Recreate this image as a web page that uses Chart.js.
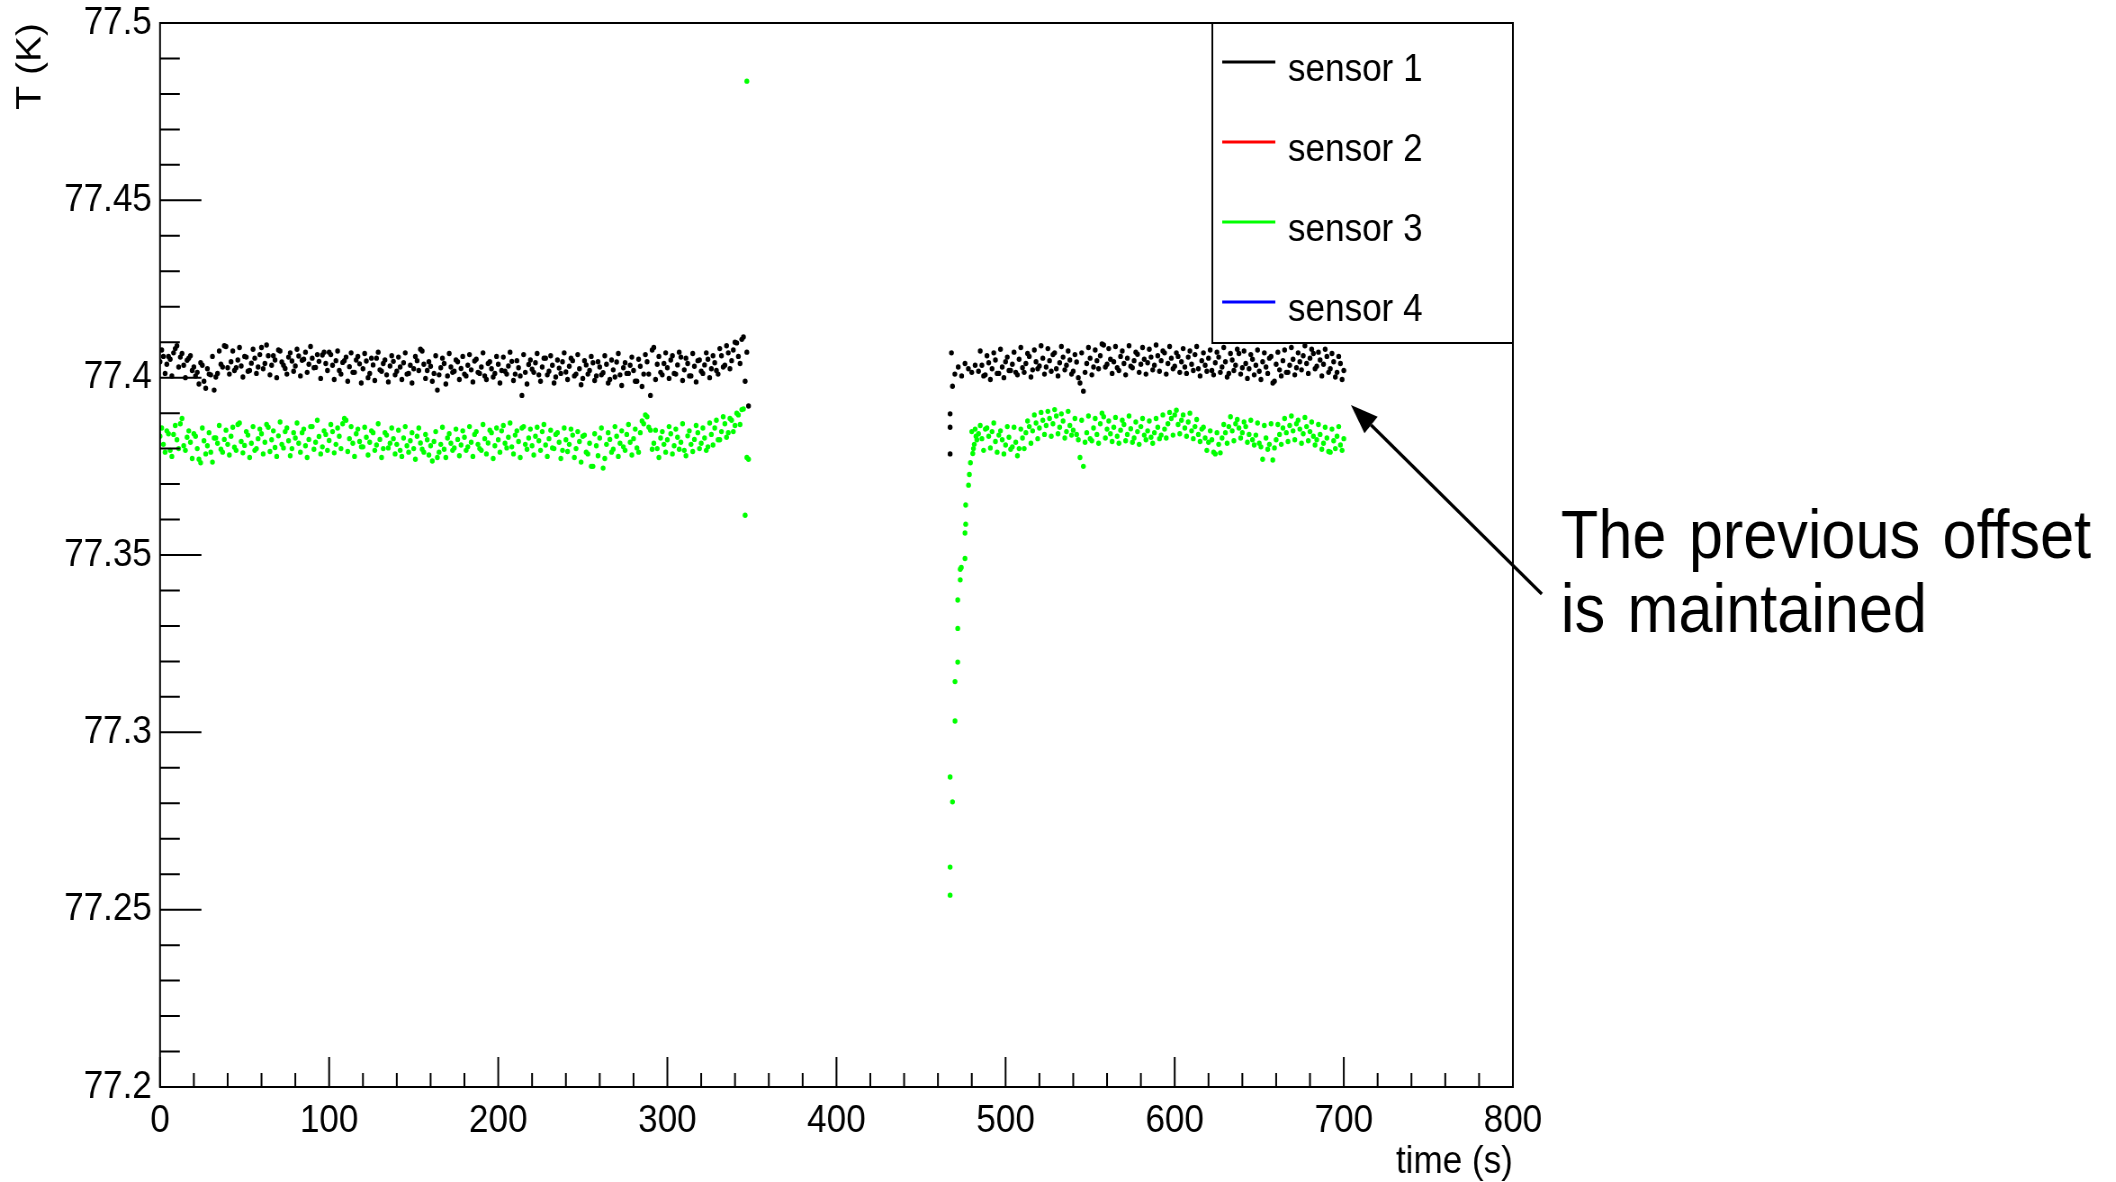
<!DOCTYPE html>
<html>
<head>
<meta charset="utf-8">
<script src="https://cdn.jsdelivr.net/npm/chart.js@4"></script>
<style>
html, body { margin: 0; padding: 0; background: #ffffff; overflow: hidden; }
#wrap { position: absolute; left: 0; top: 0; width: 2351px; height: 1182px; transform: scaleX(0.9); transform-origin: 0 0; }
canvas { display: block; }
</style>
</head>
<body>
<div id="wrap"><canvas id="chart" width="2351" height="1182"></canvas></div>
<script>
// ---------------- data ----------------
const sensorLabels = ['sensor 1', 'sensor 2', 'sensor 3', 'sensor 4'];

// first run, even seconds
const timeA = [0,2,4,6,8,10,12,14,16,18,20,22,24,26,28,30,32,34,36,38,40,42,44,46,48,50,52,54,56,58,
60,62,64,66,68,70,72,74,76,78,80,82,84,86,88,90,92,94,96,98,100,102,104,106,108,110,112,114,116,118,
120,122,124,126,128,130,132,134,136,138,140,142,144,146,148,150,152,154,156,158,160,162,164,166,168,170,172,174,176,178,
180,182,184,186,188,190,192,194,196,198,200,202,204,206,208,210,212,214,216,218,220,222,224,226,228,230,232,234,236,238,
240,242,244,246,248,250,252,254,256,258,260,262,264,266,268,270,272,274,276,278,280,282,284,286,288,290,292,294,296,298,
300,302,304,306,308,310,312,314,316,318,320,322,324,326,328,330,332,334,336,338,340,342,344,346,348];

const sensor1A = [
77.4045,77.4060,77.4038,77.4052,77.4070,77.4090,77.4058,77.4035,77.4049,77.4062,
77.4030,77.4015,77.4042,77.3990,77.4025,77.4008,77.3965,77.4012,77.4038,77.4090,
77.4028,77.4045,77.4020,77.4050,77.4033,77.4060,77.4018,77.4041,77.4055,77.4030,
77.4085,77.4040,77.4062,77.4035,77.4050,77.4078,77.4044,77.4026,77.4058,77.4047,
77.4033,77.4061,77.4049,77.4072,77.4038,77.4055,77.4029,77.4046,77.4064,77.4040,
77.4072,77.4035,77.4048,77.4020,77.4043,77.4058,77.4031,77.4015,77.4050,77.4039,
77.4025,77.4047,77.4012,77.4036,77.4055,77.4022,77.4040,77.4008,77.4033,77.4046,
77.4018,77.4030,77.4042,77.4010,77.4035,77.4025,77.4048,77.4080,77.4038,77.4020,
77.4032,77.4012,77.3965,77.4028,77.4040,77.4005,77.4030,77.4018,77.4045,77.4026,
77.4010,77.4035,77.4022,77.4047,77.4015,77.4030,77.4005,77.4040,77.4025,77.4012,
77.4038,77.4020,77.4018,77.4033,77.4046,77.4010,77.4028,77.3950,77.4015,77.4037,
77.4024,77.4042,77.4008,77.4030,77.4055,77.4018,77.4035,77.4002,77.4027,77.4045,
77.4016,77.4032,77.4048,77.4010,77.4025,77.3998,77.4036,77.4020,77.4042,77.4005,
77.4030,77.4014,77.4038,77.3995,77.4022,77.4044,77.4008,77.4028,77.4012,77.4035,
77.4020,77.3990,77.4032,77.4010,77.4045,77.3950,77.4085,77.4038,77.4015,77.4040,
77.4028,77.4050,77.4012,77.4036,77.4058,77.4022,77.4040,77.4005,77.4032,77.4048,
77.4018,77.4036,77.4052,77.4025,77.4042,77.4010,77.4062,77.4035,77.4070,77.4048,
77.4100,77.4060,77.4108,77.3990,77.3920];

const sensor3A = [
77.3835,77.3812,77.3850,77.3795,77.3840,77.3825,77.3870,77.3808,77.3832,77.3818,
77.3842,77.3800,77.3760,77.3822,77.3808,77.3790,77.3830,77.3815,77.3798,77.3826,
77.3812,77.3835,77.3804,77.3868,77.3820,77.3809,77.3838,77.3815,77.3795,77.3828,
77.3842,77.3818,77.3860,77.3825,77.3803,77.3836,77.3812,77.3848,77.3822,77.3800,
77.3830,77.3815,77.3845,77.3808,77.3826,77.3862,77.3818,77.3834,77.3805,77.3840,
77.3823,77.3848,77.3812,77.3835,77.3870,77.3880,77.3828,77.3815,77.3842,77.3820,
77.3805,77.3832,77.3818,77.3845,77.3810,77.3826,77.3800,77.3838,77.3815,77.3828,
77.3812,77.3795,77.3830,77.3808,77.3822,77.3800,77.3835,77.3816,77.3790,77.3825,
77.3808,77.3820,77.3775,77.3812,77.3798,77.3830,77.3815,77.3802,77.3826,77.3810,
77.3832,77.3805,77.3818,77.3840,77.3812,77.3795,77.3828,77.3816,77.3845,77.3808,
77.3825,77.3850,77.3815,77.3832,77.3805,77.3838,77.3820,77.3858,77.3812,77.3830,
77.3808,77.3835,77.3822,77.3848,77.3810,77.3828,77.3802,77.3840,77.3818,77.3795,
77.3825,77.3812,77.3838,77.3800,77.3820,77.3835,77.3790,77.3815,77.3750,77.3808,
77.3830,77.3745,77.3812,77.3826,77.3798,77.3835,77.3815,77.3805,77.3840,77.3818,
77.3828,77.3802,77.3845,77.3870,77.3890,77.3852,77.3815,77.3800,77.3830,77.3812,
77.3825,77.3842,77.3808,77.3832,77.3818,77.3795,77.3836,77.3812,77.3826,77.3845,
77.3815,77.3830,77.3805,77.3840,77.3858,77.3825,77.3848,77.3870,77.3845,77.3880,
77.3865,77.3895,77.3910,77.3612,77.3770];

// first run, odd seconds
const timeA2 = [1,3,5,7,9,11,13,15,17,19,21,23,25,27,29,31,33,35,37,39,41,43,45,47,49,51,53,55,57,59,
61,63,65,67,69,71,73,75,77,79,81,83,85,87,89,91,93,95,97,99,101,103,105,107,109,111,113,115,117,119,
121,123,125,127,129,131,133,135,137,139,141,143,145,147,149,151,153,155,157,159,161,163,165,167,169,171,173,175,177,179,
181,183,185,187,189,191,193,195,197,199,201,203,205,207,209,211,213,215,217,219,221,223,225,227,229,231,233,235,237,239,
241,243,245,247,249,251,253,255,257,259,261,263,265,267,269,271,273,275,277,279,281,283,285,287,289,291,293,295,297,299,
301,303,305,307,309,311,313,315,317,319,321,323,325,327,329,331,333,335,337,339,341,343,345,347];

const sensor1A2 = [
77.4078,77.4012,77.4060,77.4005,77.4082,77.4030,77.4068,77.4000,77.4055,77.4020,
77.4005,77.3982,77.4035,77.3970,77.4010,77.4060,77.4002,77.4075,77.4030,77.4088,
77.4010,77.4075,77.4028,77.4085,77.4002,77.4058,77.4020,77.4080,77.4012,77.4065,
77.4025,77.4092,77.4008,77.4062,77.4000,77.4075,77.4035,77.4010,77.4070,77.4018,
77.4080,77.4005,77.4052,77.4015,77.4088,77.4028,77.4065,77.3998,77.4072,77.4020,
77.4065,77.3995,77.4075,77.4010,77.4048,77.3990,77.4070,77.4015,77.4060,77.3985,
77.4068,77.4000,77.4055,77.3992,77.4072,77.4018,77.4050,77.3988,77.4062,77.4008,
77.4058,77.3995,77.4070,77.4012,77.3985,77.4060,77.4020,77.4075,77.3998,77.4045,
77.3990,77.4062,77.4008,77.4055,77.3982,77.4068,77.4015,77.4050,77.3995,77.4060,
77.4005,77.4065,77.3988,77.4052,77.4012,77.4070,77.3995,77.4045,77.4002,77.4060,
77.3985,77.4058,77.4010,77.4072,77.3992,77.4048,77.4005,77.4065,77.3982,77.4050,
77.4015,77.4068,77.3990,77.4055,77.4008,77.4062,77.3985,77.4050,77.4012,77.4070,
77.3995,77.4055,77.4005,77.4065,77.3980,77.4048,77.4010,77.4060,77.3992,77.4045,
77.4008,77.4062,77.3985,77.4050,77.4002,77.4068,77.3978,77.4042,77.4012,77.4058,
77.3990,77.4052,77.3975,77.4065,77.4010,77.4078,77.3995,77.4060,77.4008,77.4070,
77.3998,77.4062,77.4010,77.4072,77.3992,77.4055,77.4005,77.4068,77.3988,77.4050,
77.4012,77.4070,77.4000,77.4062,77.4020,77.4082,77.4030,77.4090,77.4025,77.4078,
77.4098,77.4040,77.4115,77.4072];

const sensor3A2 = [
77.3858,77.3790,77.3842,77.3778,77.3865,77.3800,77.3885,77.3795,77.3850,77.3772,
77.3835,77.3770,77.3858,77.3785,77.3845,77.3762,77.3830,77.3865,77.3790,77.3852,
77.3782,77.3860,77.3795,77.3872,77.3788,77.3848,77.3775,77.3862,77.3800,77.3855,
77.3785,77.3868,77.3792,77.3850,77.3778,77.3875,77.3802,77.3858,77.3780,77.3845,
77.3872,77.3790,77.3855,77.3775,77.3862,77.3798,77.3880,77.3785,77.3850,77.3795,
77.3868,77.3788,77.3858,77.3800,77.3885,77.3792,77.3862,77.3778,77.3855,77.3805,
77.3860,77.3782,77.3850,77.3795,77.3870,77.3775,77.3845,77.3802,77.3858,77.3785,
77.3852,77.3778,77.3862,77.3790,77.3845,77.3770,77.3858,77.3798,77.3840,77.3782,
77.3765,77.3848,77.3790,77.3860,77.3775,77.3842,77.3795,77.3855,77.3780,77.3850,
77.3795,77.3862,77.3778,77.3848,77.3800,77.3868,77.3785,77.3852,77.3772,77.3858,
77.3790,77.3865,77.3802,77.3872,77.3785,77.3850,77.3775,77.3862,77.3798,77.3855,
77.3782,77.3860,77.3795,77.3868,77.3778,77.3852,77.3800,77.3845,77.3772,77.3858,
77.3792,77.3855,77.3775,77.3848,77.3762,77.3838,77.3785,77.3750,77.3842,77.3780,
77.3858,77.3772,77.3845,77.3790,77.3862,77.3778,77.3850,77.3795,77.3868,77.3782,
77.3855,77.3790,77.3878,77.3895,77.3860,77.3798,77.3852,77.3775,77.3848,77.3790,
77.3862,77.3785,77.3855,77.3798,77.3870,77.3780,77.3850,77.3792,77.3865,77.3800,
77.3858,77.3795,77.3872,77.3810,77.3880,77.3825,77.3890,77.3832,77.3885,77.3848,
77.3900,77.3868,77.3912,77.3775];

// restart: irregular readings while the sensors settle
const timeT1 = [467.2,467.2,467.2,468.0,468.6,470,472,474,476,478,480,482];
const sensor1T = [77.3785,77.3860,77.3898,77.4070,77.3976,77.4010,77.4030,77.4005,77.4040,77.4025,77.4015,77.4035];

const timeT3 = [347,467.2,467.2,467.2,468.6,470.1,470.1,471.7,471.7,471.7,473.2,473.2,473.8,476.0,476.0,476.4,476.4,
478.1,478.6,479.2,480.6,481.5,482.5,480,481,482,483];
const sensor3T = [77.4836,77.2541,77.2620,77.2874,77.2804,77.3032,77.3143,77.3198,77.3293,77.3373,77.3430,77.3460,77.3465,
77.3490,77.3562,77.3587,77.3641,77.3697,77.3727,77.3760,77.3786,77.3812,77.3835,77.3848,77.3800,77.3855,77.3825];

// second run, even seconds
const timeB = [484,486,488,490,492,494,496,498,500,502,504,506,508,510,512,514,516,518,520,522,
524,526,528,530,532,534,536,538,540,542,544,546,548,550,552,554,556,558,560,562,
564,566,568,570,572,574,576,578,580,582,584,586,588,590,592,594,596,598,600,602,
604,606,608,610,612,614,616,618,620,622,624,626,628,630,632,634,636,638,640,642,
644,646,648,650,652,654,656,658,660,662,664,666,668,670,672,674,676,678,680,682,
684,686,688,690,692,694,696,698,700];

const sensor1B = [
77.4018,77.4035,77.4008,77.4042,77.4025,77.4050,77.4012,77.4030,77.4045,77.4020,
77.4038,77.4015,77.4052,77.4028,77.4040,77.4060,77.4022,77.4045,77.4033,77.4055,
77.4030,77.4048,77.4065,77.4025,77.4042,77.4058,77.4035,77.4050,77.4018,77.4044,
77.3985,77.3962,77.4040,77.4055,77.4030,77.4048,77.4062,77.4092,77.4038,77.4052,
77.4045,77.4028,77.4060,77.4040,77.4055,77.4032,77.4048,77.4066,77.4038,77.4052,
77.4042,77.4058,77.4035,77.4062,77.4048,77.4070,77.4040,77.4055,77.4032,77.4060,
77.4045,77.4030,77.4058,77.4038,77.4065,77.4025,77.4048,77.4035,77.4055,77.4020,
77.4042,77.4058,77.4030,77.4045,77.4012,77.4050,77.4035,77.4068,77.4028,77.4040,
77.4025,77.4052,77.4035,77.4018,77.4045,77.4030,77.4055,77.3985,77.4038,77.4022,
77.4048,77.4015,77.4035,77.4052,77.4028,77.4045,77.4062,77.4040,77.4055,77.4068,
77.4032,77.4050,77.4038,77.4060,77.4025,77.4045,77.4015,77.4040,77.4020];

const sensor3B = [
77.3842,77.3828,77.3855,77.3835,77.3848,77.3820,77.3838,77.3825,77.3810,77.3832,
77.3805,77.3818,77.3800,77.3830,77.3845,77.3862,77.3850,77.3872,77.3858,77.3880,
77.3865,77.3885,77.3870,77.3892,77.3860,77.3878,77.3848,77.3865,77.3852,77.3840,
77.3775,77.3750,77.3845,77.3828,77.3858,77.3840,77.3870,77.3890,77.3855,77.3842,
77.3860,77.3835,77.3852,77.3868,77.3840,77.3856,77.3830,77.3848,77.3862,77.3838,
77.3850,77.3832,77.3845,77.3860,77.3838,77.3855,77.3870,77.3885,77.3895,77.3868,
77.3880,77.3858,77.3875,77.3850,77.3862,77.3840,77.3855,77.3830,77.3818,77.3825,
77.3785,77.3812,77.3830,77.3845,77.3862,77.3850,77.3870,77.3858,77.3845,77.3862,
77.3840,77.3825,77.3838,77.3815,77.3770,77.3830,77.3812,77.3768,77.3825,77.3840,
77.3858,77.3845,77.3865,77.3850,77.3870,77.3855,77.3842,77.3862,77.3848,77.3835,
77.3825,77.3840,77.3815,77.3830,77.3790,77.3822,77.3835,77.3810,77.3828];

// second run, odd seconds
const timeB2 = [485,487,489,491,493,495,497,499,501,503,505,507,509,511,513,515,517,519,521,523,
525,527,529,531,533,535,537,539,541,543,545,547,549,551,553,555,557,559,561,563,
565,567,569,571,573,575,577,579,581,583,585,587,589,591,593,595,597,599,601,603,
605,607,609,611,613,615,617,619,621,623,625,627,629,631,633,635,637,639,641,643,
645,647,649,651,653,655,657,659,661,663,665,667,669,671,673,675,677,679,681,683,
685,687,689,691,693,695,697,699];

const sensor1B2 = [
77.4075,77.4005,77.4062,77.3995,77.4070,77.4012,77.4080,77.4000,77.4058,77.4020,
77.4072,77.4008,77.4085,77.4015,77.4068,77.4002,77.4078,77.4025,77.4090,77.4010,
77.4082,77.4018,77.4070,77.4005,77.4088,77.4022,77.4075,77.4010,77.4065,77.4000,
77.4070,77.4015,77.4085,77.4008,77.4078,77.4025,77.4095,77.4030,77.4082,77.4012,
77.4088,77.4020,77.4075,77.4008,77.4090,77.4028,77.4072,77.4015,77.4085,77.4010,
77.4080,77.4022,77.4092,77.4018,77.4075,77.4010,77.4088,77.4025,77.4070,77.4015,
77.4082,77.4012,77.4075,77.4020,77.4088,77.4005,77.4070,77.4018,77.4078,77.4008,
77.4072,77.4015,77.4085,77.4002,77.4068,77.4020,77.4080,77.4010,77.4075,77.3998,
77.4065,77.4008,77.4078,77.3995,77.4070,77.4012,77.4060,77.3990,77.4072,77.4005,
77.4078,77.4015,77.4085,77.4008,77.4070,77.4022,77.4090,77.4012,77.4080,77.4025,
77.4072,77.4005,77.4080,77.4015,77.4068,77.4002,77.4060,77.3995];

const sensor3B2 = [
77.3865,77.3795,77.3858,77.3802,77.3872,77.3790,77.3850,77.3785,77.3862,77.3798,
77.3860,77.3780,77.3855,77.3800,77.3878,77.3815,77.3895,77.3828,77.3902,77.3840,
77.3905,77.3835,77.3910,77.3842,77.3898,77.3830,77.3905,77.3838,77.3885,77.3825,
77.3880,77.3818,77.3892,77.3822,77.3885,77.3815,77.3900,77.3830,77.3878,77.3820,
77.3888,77.3815,77.3880,77.3822,77.3892,77.3818,77.3875,77.3812,77.3885,77.3825,
77.3878,77.3815,77.3885,77.3828,77.3895,77.3830,77.3902,77.3838,77.3908,77.3842,
77.3895,77.3835,77.3900,77.3828,77.3882,77.3820,77.3860,77.3795,77.3850,77.3790,
77.3845,77.3788,77.3868,77.3815,77.3890,77.3822,77.3882,77.3830,77.3875,77.3818,
77.3880,77.3810,77.3872,77.3805,77.3865,77.3798,77.3870,77.3802,77.3868,77.3812,
77.3885,77.3820,77.3892,77.3825,77.3880,77.3815,77.3888,77.3822,77.3875,77.3810,
77.3868,77.3798,77.3860,77.3792,77.3855,77.3800,77.3862,77.3795];

// sensors 2 and 4 have no readings inside the plotted range
const sensor2Time = [];
const sensor2Temp = [];
const sensor4Time = [];
const sensor4Temp = [];

// annotation text and arrow anchors, in data units (time s, temperature K)
const noteLines = ['The previous offset', 'is maintained'];
const noteAnchor = [828.4, 77.3492];
const arrowTail = [817.1, 77.3390];
const arrowHead = [704.2, 77.3923];

// ---------------- build ----------------
function toPoints(times, temps) {
  return times.map((t, i) => ({ x: t, y: temps[i] }));
}
const seriesColors = ['#000000', '#ff0000', '#00ff00', '#0000ff'];
const FONT = '"Liberation Sans", Arial, Helvetica, sans-serif';
Chart.defaults.font.family = FONT;
Chart.defaults.color = '#000000';

const datasets = [
  { label: sensorLabels[0],
    data: [].concat(toPoints(timeA, sensor1A), toPoints(timeA2, sensor1A2), toPoints(timeT1, sensor1T),
                    toPoints(timeB, sensor1B), toPoints(timeB2, sensor1B2)), order: 4 },
  { label: sensorLabels[1], data: toPoints(sensor2Time, sensor2Temp), order: 3 },
  { label: sensorLabels[2],
    data: [].concat(toPoints(timeA, sensor3A), toPoints(timeA2, sensor3A2), toPoints(timeT3, sensor3T),
                    toPoints(timeB, sensor3B), toPoints(timeB2, sensor3B2)), order: 2 },
  { label: sensorLabels[3], data: toPoints(sensor4Time, sensor4Temp), order: 1 }
].map((d, i) => Object.assign(d, {
  borderColor: seriesColors[i], backgroundColor: seriesColors[i],
  pointRadius: 2.7, pointBorderWidth: 0, pointHoverRadius: 2.7, showLine: false
}));

// frame with inward major/minor ticks
const frameTicks = {
  id: 'frameTicks',
  afterDatasetsDraw(chart) {
    const { ctx, chartArea: a, scales: { x, y } } = chart;
    ctx.save();
    ctx.strokeStyle = '#000';
    ctx.lineWidth = 2;
    ctx.strokeRect(a.left, a.top, a.right - a.left, a.bottom - a.top);
    ctx.beginPath();
    const xv = x.ticks.map(t => t.value);
    xv.forEach((v, i) => {
      const p = x.getPixelForValue(v);
      ctx.moveTo(p, a.bottom); ctx.lineTo(p, a.bottom - 30);
      if (i < xv.length - 1) {
        for (let k = 1; k < 5; k++) {
          const q = x.getPixelForValue(v + (xv[i + 1] - v) * k / 5);
          ctx.moveTo(q, a.bottom); ctx.lineTo(q, a.bottom - 14);
        }
      }
    });
    const yv = y.ticks.map(t => t.value);
    yv.forEach((v, i) => {
      const p = y.getPixelForValue(v);
      ctx.moveTo(a.left, p); ctx.lineTo(a.left + 46, p);
      if (i < yv.length - 1) {
        for (let k = 1; k < 5; k++) {
          const q = y.getPixelForValue(v + (yv[i + 1] - v) * k / 5);
          ctx.moveTo(a.left, q); ctx.lineTo(a.left + 22, q);
        }
      }
    });
    ctx.stroke();
    ctx.restore();
  }
};

// boxed legend in the top-right corner of the frame
const boxLegend = {
  id: 'boxLegend',
  afterDraw(chart) {
    const { ctx, chartArea: a } = chart;
    const w = 334, h = 320;
    const x0 = a.right - w, y0 = a.top;
    ctx.save();
    ctx.fillStyle = '#fff';
    ctx.fillRect(x0, y0, w, h);
    ctx.strokeStyle = '#000';
    ctx.lineWidth = 2;
    ctx.strokeRect(x0, y0, w, h);
    const ds = chart.data.datasets;
    const rowH = h / ds.length;
    ds.forEach((d, i) => {
      const cy = y0 + rowH * (i + 0.5) - 1;
      ctx.strokeStyle = d.borderColor;
      ctx.lineWidth = 3;
      ctx.beginPath();
      ctx.moveTo(x0 + 11, cy);
      ctx.lineTo(x0 + 70, cy);
      ctx.stroke();
      ctx.fillStyle = '#000';
      ctx.font = '39px ' + FONT;
      ctx.textAlign = 'left';
      ctx.textBaseline = 'alphabetic';
      ctx.fillText(d.label, x0 + 84, cy + 19);
    });
    ctx.restore();
  }
};

// arrow + note outside the frame
const offsetNote = {
  id: 'offsetNote',
  afterDraw(chart) {
    const { ctx, scales: { x, y } } = chart;
    const hx = x.getPixelForValue(arrowHead[0]), hy = y.getPixelForValue(arrowHead[1]);
    const tx = x.getPixelForValue(arrowTail[0]), ty = y.getPixelForValue(arrowTail[1]);
    const ang = Math.atan2(hy - ty, hx - tx);
    const L = 30, W = 11;
    const bx = hx - L * Math.cos(ang), by = hy - L * Math.sin(ang);
    ctx.save();
    ctx.strokeStyle = '#000';
    ctx.fillStyle = '#000';
    ctx.lineWidth = 3.5;
    ctx.beginPath();
    ctx.moveTo(tx, ty);
    ctx.lineTo(bx, by);
    ctx.stroke();
    ctx.beginPath();
    ctx.moveTo(hx, hy);
    ctx.lineTo(bx + W * Math.sin(ang), by - W * Math.cos(ang));
    ctx.lineTo(bx - W * Math.sin(ang), by + W * Math.cos(ang));
    ctx.closePath();
    ctx.fill();
    const nx = x.getPixelForValue(noteAnchor[0]), ny = y.getPixelForValue(noteAnchor[1]);
    ctx.font = '68px ' + FONT;
    ctx.textAlign = 'left';
    ctx.textBaseline = 'alphabetic';
    if ('wordSpacing' in ctx) ctx.wordSpacing = '6px';
    noteLines.forEach((line, i) => ctx.fillText(line, nx, ny + i * 74));
    ctx.restore();
  }
};

new Chart(document.getElementById('chart'), {
  type: 'scatter',
  data: { datasets },
  options: {
    responsive: false,
    animation: false,
    devicePixelRatio: 1,
    events: [],
    layout: { padding: { left: 0, top: 23, right: 670, bottom: 0 } },
    plugins: { legend: { display: false }, tooltip: { enabled: false } },
    scales: {
      x: {
        type: 'linear', position: 'bottom', min: 0, max: 800,
        ticks: { stepSize: 100, autoSkip: false, maxRotation: 0, padding: 11, font: { size: 39 }, color: '#000' },
        grid: { display: false, drawTicks: false },
        border: { display: false },
        title: { display: true, text: 'time (s)', align: 'end', font: { size: 39 }, color: '#000', padding: { top: 0, bottom: -4 } },
        afterFit(s) { s.height = 95; }
      },
      y: {
        type: 'linear', position: 'left', min: 77.2, max: 77.5,
        ticks: { stepSize: 0.05, autoSkip: false, padding: 9, font: { size: 39 }, color: '#000',
                 callback: v => String(parseFloat(Number(v).toFixed(2))) },
        grid: { display: false, drawTicks: false },
        border: { display: false },
        title: { display: true, text: 'T (K)', align: 'end', font: { size: 39 }, color: '#000', padding: { top: 11, bottom: 0 } },
        afterFit(s) { s.width = 177.8; s.paddingTop = 20; s.paddingBottom = 0; }
      }
    }
  },
  plugins: [frameTicks, boxLegend, offsetNote]
});
</script>
</body>
</html>
